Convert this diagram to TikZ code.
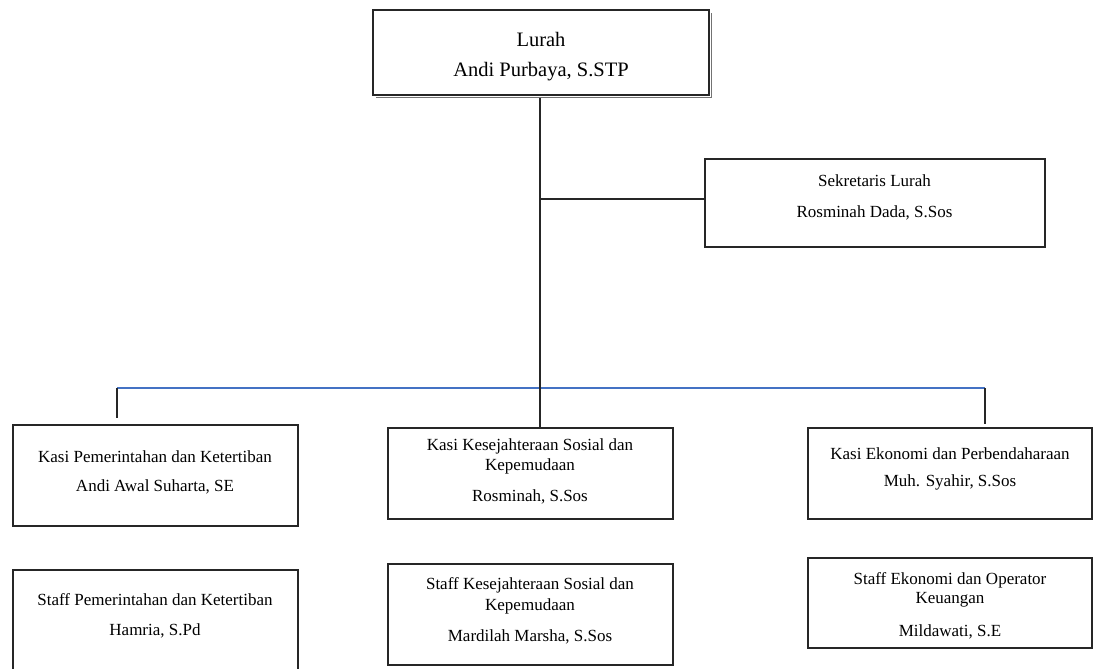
\documentclass[tikz,border=0pt]{standalone}
\usepackage{fontspec}
\setmainfont{Liberation Serif}
\definecolor{lineblue}{HTML}{4472C4}
\begin{document}
\begin{tikzpicture}[x=1pt,y=-1pt,
  box/.style={draw=black!85, line width=1.1pt, rectangle, inner sep=0pt},
  txt/.style={align=center, inner sep=0pt, font=\fontsize{17}{20.5}\selectfont, text=black},
  link/.style={draw=black!85, line width=1.2pt},
  blueline/.style={draw=lineblue, line width=1.1pt}]
\useasboundingbox (0,0) rectangle (1095,669);
\clip (0,0) rectangle (1095,669);
% Lurah
\draw[black!55, line width=1.4pt] (376,97.5) -- (711.5,97.5) -- (711.5,13);
\node[box, line width=2pt, minimum width=336pt, minimum height=85pt] (lurah) at (541,52.5) {};
\node[txt, font=\fontsize{20.5}{24.5}\selectfont] (lurahT) at (541,57) {Lurah\\[5.5pt]Andi Purbaya, S.STP};
% Sekretaris
\node[box, minimum width=340pt, minimum height=88pt] (sek) at (875,203) {};
\node[txt] (sekT) at (874.5,197.4) {Sekretaris Lurah\\[10pt]Rosminah Dada, S.Sos};
% Kasi
\node[box, minimum width=285pt, minimum height=101pt] (k1) at (155.5,475.5) {};
\node[txt] (k1T) at (155,472) {Kasi Pemerintahan dan Ketertiban\\[8.5pt]Andi Awal Suharta, SE};
\node[box, minimum width=285pt, minimum height=91pt] (k2) at (530.5,473.5) {};
\node[txt] (k2T) at (530,471.2) {Kasi Kesejahteraan Sosial dan\\Kepemudaan\\[10.5pt]Rosminah, S.Sos};
\node[box, minimum width=284pt, minimum height=91pt] (k3) at (950,473.5) {};
\node[txt] (k3T) at (950,469) {Kasi Ekonomi dan Perbendaharaan\\[7.2pt]Muh. Syahir, S.Sos};
% Staff
\node[box, minimum width=285pt, minimum height=110pt] (s1) at (155.5,625) {};
\node[txt] (s1T) at (155,615.4) {Staff Pemerintahan dan Ketertiban\\[9.5pt]Hamria, S.Pd};
\node[box, minimum width=285pt, minimum height=101pt] (s2) at (530.5,614.5) {};
\node[txt] (s2T) at (530,611.2) {Staff Kesejahteraan Sosial dan\\Kepemudaan\\[11pt]Mardilah Marsha, S.Sos};
\node[box, minimum width=284pt, minimum height=90pt] (s3) at (950,603) {};
\node[txt] (s3T) at (950,605.5) {Staff Ekonomi dan Operator\\[-1.2pt]Keuangan\\[12pt]Mildawati, S.E};
% connectors
\coordinate (top) at (540,98);
\coordinate (sekJ) at (540,199);
\coordinate (L) at (117,388);
\coordinate (R) at (985,388);
\coordinate (t1) at (117,418);
\coordinate (t3) at (985,424);
\draw[blueline] (L) -- (R);
\draw[link] (top) -- (top |- k2.north);
\draw[link] (sekJ) -- (sekJ -| sek.west);
\draw[link] (L) -- (t1);
\draw[link] (R) -- (t3);
\end{tikzpicture}
\end{document}
